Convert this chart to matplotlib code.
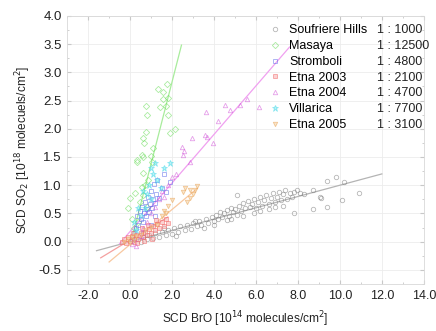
import numpy as np
import matplotlib
matplotlib.use("Agg")
import matplotlib.pyplot as plt
from matplotlib.ticker import MultipleLocator, FormatStrFormatter

plt.rcParams['font.family'] = ['Liberation Sans', 'DejaVu Sans']

# data (BrO in 1e14, SO2 in 1e18 molecules/cm2)
soufriere_x = [0.1, 0.3, 0.5, 0.6, 0.8, 0.9, 1.1, 1.2, 1.4, 1.5, 1.7, 1.8, 2.0, 2.1, 2.3, 2.4,
               2.6, 2.7, 2.9, 3.0, 3.2, 3.3, 3.4, 3.6, 3.7, 3.9, 4.0, 4.1, 4.2, 4.3, 4.4, 4.5,
               4.6, 4.7, 4.8, 4.9, 5.0, 5.1, 5.1, 5.2, 5.3, 5.4, 5.5, 5.6, 5.7, 5.8, 5.9, 6.0,
               6.1, 6.2, 6.3, 6.4, 6.5, 6.6, 6.7, 6.8, 6.9, 7.0, 7.1, 7.2, 7.3, 7.4, 7.5, 7.6,
               7.7, 7.8, 7.8, 7.95, 8.1, 8.3, 8.7, 8.7, 9.05, 9.1, 9.4, 9.4, 9.8, 10.1, 10.2,
               10.9, 3.5, 4.6, 5.4, 6.2, 6.9, 3.1, 2.2, 1.6, 5.9, 6.6, 7.3, 4.0, 4.8]
soufriere_y = [0.02, 0.05, 0.00, 0.08, 0.04, 0.12, 0.06, 0.15, 0.09, 0.18, 0.11, 0.21, 0.14, 0.24,
               0.17, 0.27, 0.20, 0.30, 0.22, 0.33, 0.27, 0.37, 0.29, 0.40, 0.33, 0.44, 0.36, 0.48,
               0.40, 0.52, 0.43, 0.50, 0.56, 0.46, 0.60, 0.52, 0.58, 0.82, 0.48, 0.63, 0.55, 0.68,
               0.59, 0.72, 0.62, 0.66, 0.76, 0.60, 0.70, 0.79, 0.64, 0.74, 0.82, 0.67, 0.77, 0.86,
               0.70, 0.80, 0.88, 0.73, 0.84, 0.91, 0.76, 0.86, 0.79, 0.88, 0.50, 0.91, 0.86, 0.84,
               0.57, 0.91, 0.79, 0.77, 0.61, 1.07, 1.14, 0.73, 1.05, 0.86, 0.25, 0.38, 0.45, 0.55,
               0.62, 0.36, 0.10, 0.25, 0.50, 0.58, 0.64, 0.30, 0.40]
masaya_x = [-0.1, 0.0, 0.1, 0.24, 0.2, 0.33, 0.35, 0.48, 0.57, 0.57, 0.62, 0.62, 0.62, 0.62, 0.67,
            0.76, 0.76, 0.81, 0.81, 0.86, 1.05, 1.02, 1.1, 1.33, 1.43, 1.57, 1.57, 1.71, 1.76,
            1.81, 1.81, 1.9, 2.14, 0.4, 0.7]
masaya_y = [0.60, 0.77, 0.41, 0.86, 0.25, 1.41, 1.45, 0.70, 0.96, 1.54, 0.82, 1.21, 1.50, 1.84,
            1.75, 1.95, 2.40, 2.25, 0.61, 1.09, 1.41, 1.52, 1.66, 2.70, 2.38, 2.66, 2.52, 2.40,
            2.79, 2.55, 2.25, 1.93, 2.00, 0.35, 1.00]
stromboli_x = [0.1, 0.2, 0.3, 0.35, 0.4, 0.45, 0.5, 0.55, 0.6, 0.65, 0.7, 0.75, 0.8, 0.85, 0.9,
               0.95, 1.0, 1.05, 1.1, 1.15, 1.2, 1.25, 1.3, 1.4, 1.5, 1.6, 1.7, 1.9, 1.0, 0.6, 1.2]
stromboli_y = [0.05, 0.15, 0.25, 0.45, 0.30, 0.55, 0.40, 0.62, 0.35, 0.50, 0.70, 0.45, 0.58, 0.80,
               0.52, 0.66, 0.90, 0.60, 0.75, 1.02, 0.68, 0.85, 1.10, 0.78, 0.95, 1.20, 0.88, 1.05,
               0.30, 0.15, 0.45]
etna03_x = [-0.4, -0.3, -0.2, -0.1, 0.0, 0.1, 0.2, 0.3, 0.4, 0.5, 0.6, 0.7, 0.8, 0.9, 1.0, 1.1,
            1.2, 1.3, 1.4, 1.5, 1.6, 1.7, 1.8, 0.55, 0.85, 1.25, 0.15, 0.35, 0.65, 1.05]
etna03_y = [0.00, 0.05, -0.02, 0.08, 0.02, 0.10, 0.00, 0.12, 0.05, 0.15, 0.08, 0.18, 0.12, 0.22,
            0.15, 0.28, 0.20, 0.32, 0.25, 0.35, 0.28, 0.40, 0.33, 0.25, 0.30, 0.38, 0.15, -0.03,
            0.02, 0.05]
etna04_x = [0.1, 0.2, 0.3, 0.5, 0.6, 0.8, 1.0, 1.2, 1.4, 1.5, 1.6, 1.8, 2.0, 2.2, 2.48, 2.52,
            2.55, 2.86, 2.95, 3.57, 3.62, 3.67, 3.95, 4.19, 4.52, 4.76, 5.24, 5.57, 6.14]
etna04_y = [-0.05, 0.05, -0.08, 0.10, 0.25, 0.35, 0.50, 0.62, 0.75, 0.90, 0.80, 1.00, 1.15, 1.20,
            1.68, 1.54, 1.60, 1.41, 1.84, 1.89, 2.30, 1.86, 1.75, 2.13, 2.43, 2.34, 2.43, 2.52,
            2.39]
villarica_x = [0.3, 0.5, 0.7, 0.8, 0.9, 1.0, 1.1, 1.2, 1.3, 1.45, 1.6, 1.9, 0.6, 1.0, 0.4, 0.2]
villarica_y = [0.20, 0.45, 0.60, 0.85, 1.00, 0.75, 1.20, 1.39, 1.10, 0.95, 1.30, 1.39, 0.90, 1.30,
               0.60, 0.35]
etna05_x = [-0.3, -0.1, 0.0, 0.1, 0.2, 0.3, 0.5, 0.7, 1.0, 1.3, 1.5, 1.6, 1.7, 1.8, 2.0, 2.52,
            2.6, 2.86, 2.86, 3.0, 3.1, 3.2, 2.7]
etna05_y = [0.00, 0.05, -0.02, 0.08, 0.03, 0.10, 0.12, 0.20, 0.25, 0.30, 0.45, 0.55, 0.50, 0.64,
            0.73, 0.88, 0.95, 0.91, 0.77, 0.85, 0.91, 0.98, 0.70]

names = ['Soufriere Hills', 'Masaya', 'Stromboli', 'Etna 2003', 'Etna 2004', 'Villarica', 'Etna 2005']
ratios = ['1 : 1000', '1 : 12500', '1 : 4800', '1 : 2100', '1 : 4700', '1 : 7700', '1 : 3100']

# fit lines: slope, intercept, x range
fit_slope = [0.10, 1.45, 0.43, 0.226, 0.31]
fit_icpt = [0.0, -0.07, 0.18, 0.03, -0.05]
fit_x0 = [-1.6, 0.1, -0.5, -1.4, -1.0]
fit_x1 = [12.0, 2.45, 7.6, 1.8, 3.2]
fit_color = ['#b4b4b4', '#a8ec9c', '#f0a0f0', '#f4a0a0', '#f8c8a0']

fig = plt.figure(figsize=(4.36, 3.31), dpi=100)
ax = fig.add_axes([0.154, 0.142, 0.818, 0.810])

series = [
    (soufriere_x, soufriere_y, 'o', '#7a7a7a', 'none'),
    (masaya_x, masaya_y, 'D', '#66dd55', 'none'),
    (stromboli_x, stromboli_y, 's', '#5060e8', 'none'),
    (etna03_x, etna03_y, 's', '#f06060', '#f8b0b0'),
    (etna04_x, etna04_y, '^', '#d050d8', 'none'),
    (villarica_x, villarica_y, '*', '#40d8e8', '#80e8f0'),
    (etna05_x, etna05_y, 'v', '#e8a050', '#f4d0a0'),
]
handles = []
for (xs, ys, m, c, fc), name in zip(series, names):
    ms = 3.2 if m != '*' else 4.5
    h, = ax.plot(xs, ys, ls='none', marker=m, ms=ms, mec=c, mfc=fc, mew=0.6, alpha=0.55,
                 label=name)
    handles.append(h)

for a, b, x0, x1, c in zip(fit_slope, fit_icpt, fit_x0, fit_x1, fit_color):
    xx = np.array([x0, x1])
    ax.plot(xx, a * xx + b, color=c, lw=0.9, zorder=1)

ax.set_xlim(-3.0, 14.0)
ax.set_ylim(-0.75, 4.0)
ax.xaxis.set_major_locator(MultipleLocator(2))
ax.xaxis.set_minor_locator(MultipleLocator(1))
ax.yaxis.set_major_locator(MultipleLocator(0.5))
ax.yaxis.set_minor_locator(MultipleLocator(0.25))
ax.xaxis.set_major_formatter(FormatStrFormatter('%.1f'))
ax.yaxis.set_major_formatter(FormatStrFormatter('%.1f'))
ax.grid(True, which='major', color='#ececec', lw=0.6)
ax.set_axisbelow(True)
ax.tick_params(which='both', direction='in', top=True, right=True, color='#c8c8c8',
               labelsize=9, labelcolor='#222222', pad=4)
ax.tick_params(axis='y', labelsize=9.5)
ax.tick_params(which='major', length=3)
ax.tick_params(which='minor', length=1.5)
for s in ax.spines.values():
    s.set_color('#d8d8d8')
    s.set_linewidth(0.6)

ax.set_xlabel('SCD BrO [10$^{14}$ molecules/cm$^2$]', fontsize=8.6, color='#222222', labelpad=6)
ax.set_ylabel('SCD SO$_2$ [10$^{18}$ molecuels/cm$^2$]', fontsize=8.6, color='#222222', labelpad=4)

leg = ax.legend(handles=handles, loc='upper left', bbox_to_anchor=(0.566, 0.968), frameon=False,
                fontsize=9, handlelength=1.0, handletextpad=0.6, labelspacing=0.3,
                borderaxespad=0, borderpad=0)

# ratio column lined up with the legend rows
fig.canvas.draw()
inv = ax.transAxes.inverted()
for t, r in zip(leg.get_texts(), ratios):
    bb = t.get_window_extent()
    yc = inv.transform((0, (bb.y0 + bb.y1) / 2))[1]
    ax.text(0.868, yc, r, transform=ax.transAxes, fontsize=9,
            color='#222222', ha='left', va='center')

fig.savefig('out.png', dpi=100)
